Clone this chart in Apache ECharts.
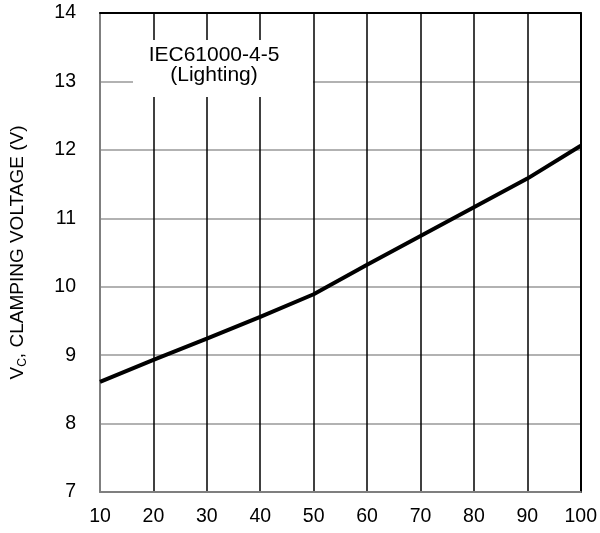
<!DOCTYPE html>
<html>
<head>
<meta charset="utf-8">
<script src="https://cdn.jsdelivr.net/npm/echarts@6/dist/echarts.min.js"></script>
<style>html,body{margin:0;padding:0;background:#fff}#c{width:600px;height:533px}</style>
</head>
<body>
<div id="c"></div>
<script>
var xValues = [10, 20, 30, 40, 50, 60, 70, 80, 90, 100];
var clampVoltage = [8.61, 8.93, 9.24, 9.56, 9.89, 10.32, 10.74, 11.16, 11.58, 12.06];
var annotationLines = ['IEC61000-4-5', '(Lighting)'];
var yTitle = '{m|V}{s|C}{m|, CLAMPING VOLTAGE (V)}';

var FONT = '"Liberation Sans", Arial, sans-serif';
var chart = echarts.init(document.getElementById('c'));
chart.setOption({
  animation: false,
  backgroundColor: '#fff',
  grid: { left: 100, right: 18, top: 13, bottom: 41, show: false },
  xAxis: [{
    type: 'value', min: 10, max: 100, interval: 10,
    axisLine: { show: true, lineStyle: { color: '#7f7f7f', width: 2 } },
    axisTick: { show: false },
    axisLabel: { color: '#000', fontSize: 19.5, fontFamily: FONT, margin: 15 },
    splitLine: { show: true, lineStyle: { color: '#000', width: 1.5 } }
  }, {
    type: 'value', position: 'top', min: 10, max: 100, interval: 10,
    axisLine: { show: true, onZero: false, lineStyle: { color: '#000', width: 2 } },
    axisTick: { show: false }, axisLabel: { show: false }, splitLine: { show: false }
  }],
  yAxis: [{
    type: 'value', min: 7, max: 14, interval: 1,
    name: yTitle, nameLocation: 'middle', nameRotate: 90, nameGap: 71,
    nameTextStyle: {
      fontFamily: FONT, color: '#000',
      rich: {
        m: { fontSize: 19, fontFamily: FONT, color: '#000', lineHeight: 22 },
        s: { fontSize: 12, fontFamily: FONT, color: '#000', lineHeight: 11, verticalAlign: 'bottom' }
      }
    },
    axisLine: { show: true, lineStyle: { color: '#7f7f7f', width: 2 } },
    axisTick: { show: false },
    axisLabel: { color: '#000', fontSize: 19.5, fontFamily: FONT, margin: 24 },
    splitLine: { show: true, lineStyle: { color: '#999', width: 1.5 } }
  }, {
    type: 'value', position: 'right', min: 7, max: 14, interval: 1,
    axisLine: { show: true, onZero: false, lineStyle: { color: '#000', width: 2 } },
    axisTick: { show: false }, axisLabel: { show: false }, splitLine: { show: false }
  }],
  series: [{
    type: 'line',
    data: xValues.map(function (x, i) { return [x, clampVoltage[i]]; }),
    showSymbol: false, symbol: 'none',
    lineStyle: { color: '#000', width: 4 },
    z: 5
  }],
  graphic: [{
    type: 'rect', z: 100, shape: { x: 133, y: 40, width: 180, height: 57 },
    style: { fill: '#fff' }
  }, {
    type: 'text', z: 101, x: 214, y: 65,
    style: {
      text: annotationLines.join('\n'),
      fontSize: 21, fontFamily: FONT, fill: '#000', lineHeight: 20,
      align: 'center', verticalAlign: 'middle'
    }
  }]
});
</script>
</body>
</html>
